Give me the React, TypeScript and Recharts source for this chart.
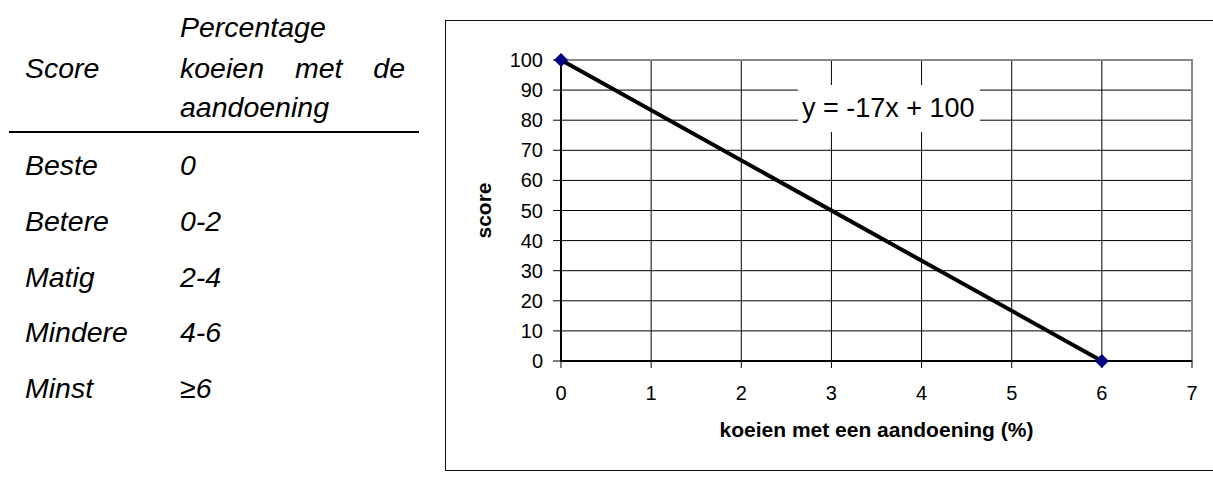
import { CartesianGrid, ComposedChart, Line, ReferenceArea, Scatter, XAxis, YAxis } from 'recharts';

const scoreLabels = ['Beste', 'Betere', 'Matig', 'Mindere', 'Minst'];
const percentRanges = ['0', '0-2', '2-4', '4-6', '≥6'];

const cowsPct = [0, 6];
const scores = [100, 0];

const xTicks = [0, 1, 2, 3, 4, 5, 6, 7];
const yTicks = [0, 10, 20, 30, 40, 50, 60, 70, 80, 90, 100];

const equation = 'y = -17x + 100';

const data = cowsPct.map((x, i) => ({ x, score: scores[i] }));

const FONT = "'Liberation Sans', Arial, sans-serif";
const ROW_BASE = [175, 231, 286.5, 342, 397.5];

function Diamond(props: any) {
  const { cx, cy } = props;
  const r = 7;
  return <polygon points={`${cx},${cy - r} ${cx + r},${cy} ${cx},${cy + r} ${cx - r},${cy}`} fill='#000080' />;
}

// recharts ignored the font size on ticks, so draw them ourselves
function XTick(p: any) {
  return (
    <text x={p.x} y={p.y + 14.5} textAnchor='middle' fontFamily={FONT} fontSize={20} fill='#000'>
      {p.payload.value}
    </text>
  );
}

function YTick(p: any) {
  return (
    <text x={p.x} y={p.y + 7} textAnchor='end' fontFamily={FONT} fontSize={20} fill='#000'>
      {p.payload.value}
    </text>
  );
}

function TableSide() {
  const t = { fontFamily: FONT, fontSize: 28.5, fontStyle: 'italic', fill: '#000' } as const;
  return (
    <svg width={430} height={477} style={{ position: 'absolute', left: 0, top: 0 }}>
      <text {...t} x={180} y={37}>Percentage</text>
      <text {...t} x={25} y={78}>Score</text>
      <text {...t} x={180} y={78}>koeien</text>
      <text {...t} x={295} y={78}>met</text>
      <text {...t} x={405} y={78} textAnchor='end'>de</text>
      <text {...t} x={180} y={117}>aandoening</text>
      <line x1={9} x2={419} y1={132} y2={132} stroke='#000' strokeWidth={2} />
      {scoreLabels.map((s, i) => (
        <g key={s}>
          <text {...t} x={25} y={ROW_BASE[i]}>{s}</text>
          <text {...t} x={180} y={ROW_BASE[i]}>{percentRanges[i]}</text>
        </g>
      ))}
    </svg>
  );
}

export default function App() {
  return (
    <div style={{ position: 'fixed', left: 0, top: 0, width: 1213, height: 477, overflow: 'hidden', background: '#fff' }}>
      <TableSide />
      <div style={{ position: 'absolute', left: 445, top: 20, width: 800, height: 451, border: '1.5px solid #111', boxSizing: 'border-box' }} />
      <div style={{ position: 'absolute', left: 0, top: 0 }}>
        <ComposedChart width={1213} height={477} data={data} margin={{ top: 60, right: 21, left: 446, bottom: 36 }}>
          <CartesianGrid stroke='#000' strokeWidth={1} />
          <ReferenceArea x1={0} x2={7} y1={0} y2={100} fill='none' stroke='#888' strokeWidth={2} />
          <XAxis
            type='number'
            dataKey='x'
            domain={[0, 7]}
            ticks={xTicks}
            interval={0}
            height={80}
            tickSize={7}
            tickMargin={17}
            axisLine={{ stroke: '#000', strokeWidth: 2 }}
            tickLine={{ stroke: '#000', strokeWidth: 1 }}
            tick={<XTick />}
            label={{
              content: (p: any) => {
                const vb = p.viewBox;
                return (
                  <text x={vb.x + vb.width / 2} y={vb.y + 76} textAnchor='middle' fontFamily={FONT} fontSize={21} fontWeight='bold' fill='#000'>
                    koeien met een aandoening (%)
                  </text>
                );
              },
            }}
          />
          <YAxis
            type='number'
            domain={[0, 100]}
            ticks={yTicks}
            interval={0}
            width={115}
            tickSize={8}
            tickMargin={10}
            axisLine={{ stroke: '#000', strokeWidth: 2 }}
            tickLine={{ stroke: '#000', strokeWidth: 1 }}
            tick={<YTick />}
            label={{
              content: (p: any) => {
                const vb = p.viewBox;
                const cx = vb.x + 45;
                const cy = vb.y + vb.height / 2;
                return (
                  <text x={cx} y={cy} transform={`rotate(-90 ${cx} ${cy})`} textAnchor='middle' fontFamily={FONT} fontSize={21} fontWeight='bold' fill='#000'>
                    score
                  </text>
                );
              },
            }}
          />
          <Scatter dataKey='score' shape={<Diamond />} isAnimationActive={false} />
          <Line type='linear' dataKey='score' stroke='#000' strokeWidth={4} dot={false} activeDot={false} isAnimationActive={false} />
        </ComposedChart>
      </div>
      <div
        style={{
          position: 'absolute',
          left: 798,
          top: 85,
          width: 182,
          height: 47,
          background: '#fff',
          fontFamily: FONT,
          fontSize: 27,
          lineHeight: '47px',
          paddingLeft: 4,
          boxSizing: 'border-box',
          whiteSpace: 'nowrap',
          color: '#000',
        }}
      >
        {equation}
      </div>
    </div>
  );
}
